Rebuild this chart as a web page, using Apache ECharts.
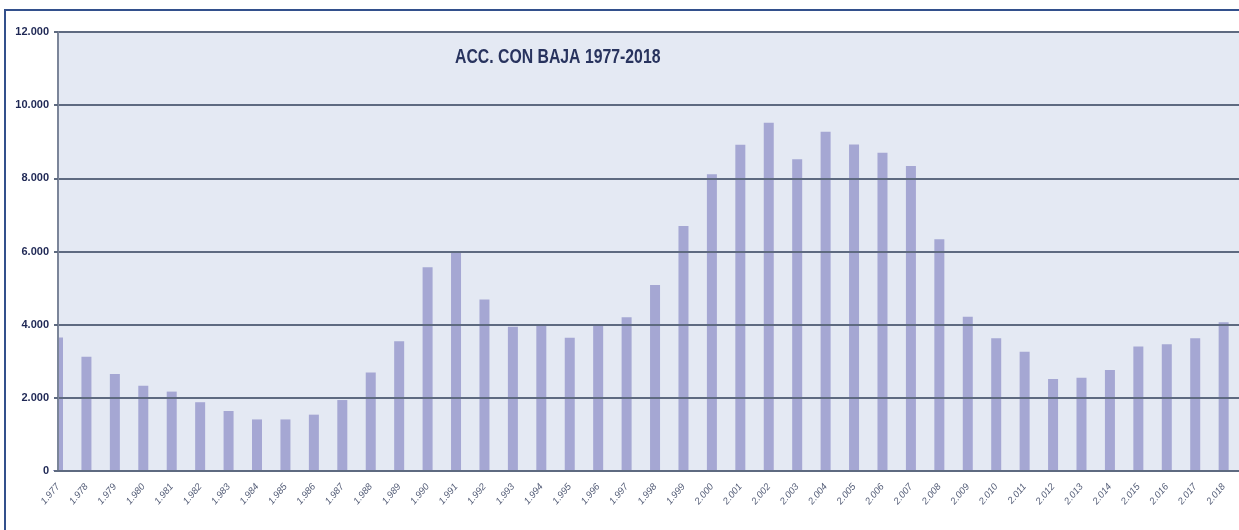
<!DOCTYPE html>
<html>
<head>
<meta charset="utf-8">
<script src="https://cdn.jsdelivr.net/npm/echarts@6/dist/echarts.min.js"></script>
<style>
html,body{margin:0;padding:0;background:#ffffff;}
#c{width:1239px;height:530px;}
</style>
</head>
<body>
<div id="c"></div>
<script>
const titleText = 'ACC. CON BAJA 1977-2018';
const years = [1977,1978,1979,1980,1981,1982,1983,1984,1985,1986,1987,1988,1989,1990,1991,1992,1993,1994,1995,1996,1997,1998,1999,2000,2001,2002,2003,2004,2005,2006,2007,2008,2009,2010,2011,2012,2013,2014,2015,2016,2017,2018];
const values = [3650,3120,2650,2330,2170,1880,1640,1410,1410,1540,1940,2690,3545,5570,6000,4690,3945,3970,3645,4010,4200,5085,6700,8110,8920,9520,8520,9275,8925,8700,8335,6335,4215,3630,3260,2515,2550,2760,3400,3465,3630,4065];
const yTicks = [0,2000,4000,6000,8000,10000,12000];

const fmt = v => { const s = String(Math.round(v)); return s.length > 3 ? s.slice(0, s.length-3) + '.' + s.slice(-3) : s; };

const chart = echarts.init(document.getElementById('c'), null, {renderer:'canvas'});
chart.setOption({
  animation: false,
  backgroundColor: '#ffffff',
  graphic: [{
    type: 'rect', silent: true, z: 100,
    shape: {x: 5, y: 10, width: 1300, height: 600},
    style: {fill: 'none', stroke: '#33508c', lineWidth: 2}
  }, {
    type: 'rect', silent: true, z: 5,
    shape: {x: 40, y: 200, width: 17, height: 270},
    style: {fill: '#ffffff'}
  }, {
    type: 'text', silent: true, z: 20,
    x: 455, y: 47, scaleX: 0.79,
    style: {text: titleText, font: 'bold 20px "Liberation Sans", Arial, sans-serif', fill: '#28335e', textVerticalAlign: 'top'}
  }],
  grid: {left: 58, top: 32, bottom: 59, right: 0, show: true, backgroundColor: '#e4e9f3', borderWidth: 0},
  xAxis: {
    type: 'value',
    min: years[0], max: 2018.54, interval: 1,
    z: 10,
    splitLine: {show: false},
    axisTick: {show: false},
    axisLine: {show: true, onZero: true, lineStyle: {color: '#5e6a80', width: 2}},
    axisLabel: {
      rotate: 50, margin: 14, showMaxLabel: false,
      fontFamily: 'Liberation Sans, Arial, sans-serif', fontSize: 9.5, fontStyle: 'italic',
      color: '#555e78',
      formatter: v => Number.isInteger(v) ? fmt(v) : ''
    }
  },
  yAxis: {
    type: 'value', min: yTicks[0], max: yTicks[yTicks.length-1], interval: 2000,
    z: 10,
    axisLine: {show: true, lineStyle: {color: '#7b8599', width: 2}},
    axisTick: {show: true, length: 4, lineStyle: {color: '#5e6a80', width: 2}},
    splitLine: {show: true, lineStyle: {color: '#5e6a80', width: 2}},
    axisLabel: {
      margin: 9,
      fontFamily: 'Liberation Sans, Arial, sans-serif', fontSize: 11, fontWeight: 'bold',
      color: '#1e2754',
      formatter: v => fmt(v)
    }
  },
  series: [{
    type: 'bar',
    data: years.map((y, i) => [y, values[i]]),
    barWidth: 10,
    itemStyle: {color: '#a5a7d3'}
  }]
});
</script>
</body>
</html>
